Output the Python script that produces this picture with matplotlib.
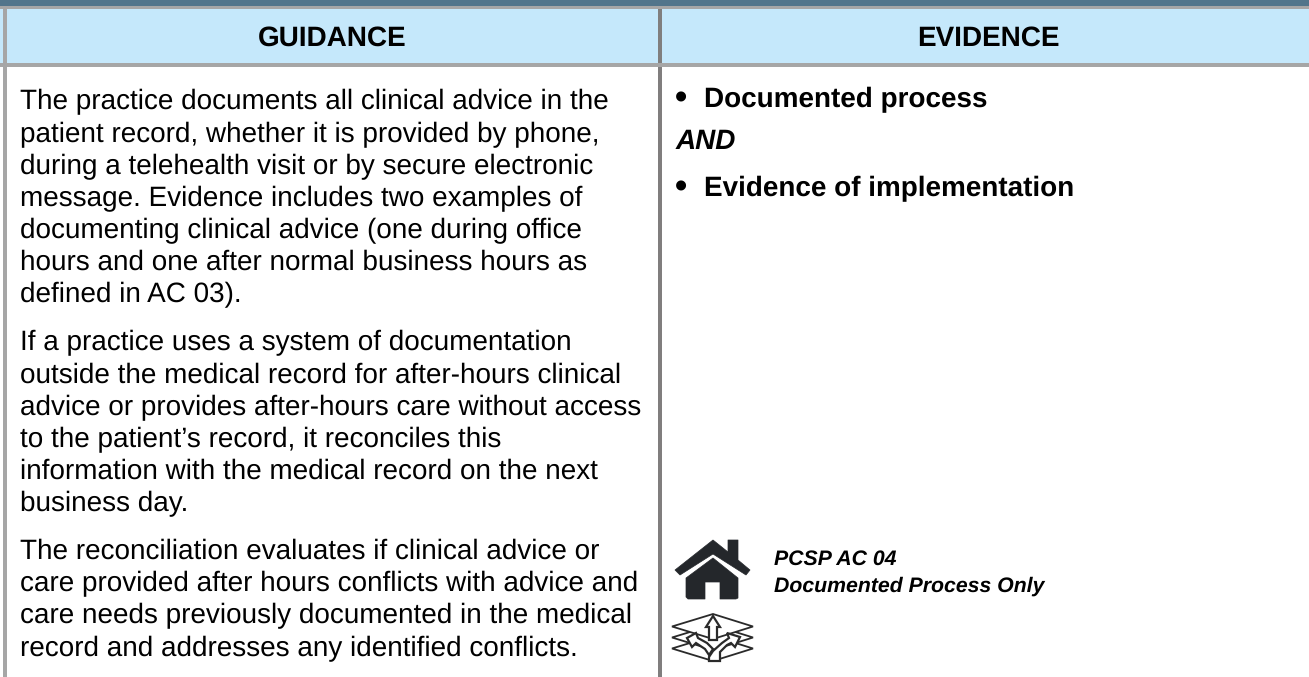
import matplotlib
matplotlib.use("Agg")
import matplotlib.pyplot as plt
from matplotlib.patches import Polygon, Rectangle

WIDTH, HEIGHT = 1309, 677

HEADERS = ["GUIDANCE", "EVIDENCE"]
GUIDANCE_LINES = [
    "The practice documents all clinical advice in the",
    "patient record, whether it is provided by phone,",
    "during a telehealth visit or by secure electronic",
    "message. Evidence includes two examples of",
    "documenting clinical advice (one during office",
    "hours and one after normal business hours as",
    "defined in AC 03).",
    "If a practice uses a system of documentation",
    "outside the medical record for after-hours clinical",
    "advice or provides after-hours care without access",
    "to the patient\u2019s record, it reconciles this",
    "information with the medical record on the next",
    "business day.",
    "The reconciliation evaluates if clinical advice or",
    "care provided after hours conflicts with advice and",
    "care needs previously documented in the medical",
    "record and addresses any identified conflicts.",
]
GUIDANCE_Y = [109, 142, 174, 206, 238, 270, 302, 350, 383, 415, 447, 479, 511, 559, 591, 623, 656]
EVIDENCE_ITEMS = ["Documented process", "Evidence of implementation"]
EVIDENCE_Y = [107, 196]
AND_Y = 149
NOTE_LINES = ["PCSP AC 04", "Documented Process Only"]
NOTE_Y = [565, 592]

FONT = 20.1
DARK = "#24272B"
LINE = "#2A2A2A"

plt.rcParams["font.family"] = ["Liberation Sans", "DejaVu Sans"]
plt.rcParams["text.hinting"] = "no_hinting"

fig = plt.figure(figsize=(WIDTH / 100, HEIGHT / 100), dpi=100)
ax = fig.add_axes([0, 0, 1, 1])
ax.set_xlim(0, WIDTH)
ax.set_ylim(HEIGHT, 0)
ax.axis("off")

# bands and rules
ax.add_patch(Rectangle((0, 0), WIDTH, 6, color="#52758B", lw=0))
ax.add_patch(Rectangle((0, 9), WIDTH, 54, color="#C5E8FB", lw=0))
ax.add_patch(Rectangle((3, 9), 4, HEIGHT - 9, color="#A6A6A6", lw=0))
ax.add_patch(Rectangle((658, 9), 4, HEIGHT - 9, color="#807E7E", lw=0))
ax.add_patch(Rectangle((0, 6), WIDTH, 3, color="#A6A6A6", lw=0))
ax.add_patch(Rectangle((0, 63), WIDTH, 4, color="#A6A6A6", lw=0))

# headers
ax.text(332, 46, HEADERS[0], fontsize=FONT, fontweight="bold", ha="center", va="baseline", color="black")
ax.text(988, 46, HEADERS[1], fontsize=FONT, fontweight="bold", ha="center", va="baseline", color="black")

# guidance column
for line, y in zip(GUIDANCE_LINES, GUIDANCE_Y):
    ax.text(20, y, line, fontsize=FONT, va="baseline", color="black")

# evidence column
for item, y in zip(EVIDENCE_ITEMS, EVIDENCE_Y):
    ax.text(675, y + 2, "\u2022", fontsize=25, fontweight="bold", va="baseline", color="black")
    ax.text(704, y, item, fontsize=FONT, fontweight="bold", va="baseline", color="black")
ax.text(676, AND_Y, "AND", fontsize=FONT, fontweight="bold", fontstyle="italic", va="baseline", color="black")

for line, y in zip(NOTE_LINES, NOTE_Y):
    ax.text(774, y, line, fontsize=15.3, fontweight="bold", fontstyle="italic", va="baseline", color="black")

# home icon
ax.add_patch(Polygon([(675, 570), (713, 540), (728, 552), (728, 540), (738, 540), (738, 560), (750, 570),
                      (746, 575), (713, 554), (680, 575)], closed=True, facecolor=DARK, edgecolor=DARK, lw=0.5,
                     joinstyle="round"))
ax.add_patch(Polygon([(686, 578), (713, 558), (738, 578), (738, 598), (736, 599), (720, 599), (720, 582), (705, 582),
                      (705, 599), (688, 599), (686, 597)], closed=True, facecolor=DARK, edgecolor=DARK, lw=0.5,
                     joinstyle="round"))

# layers icon
for top in [636, 625, 614]:
    ax.add_patch(Polygon([(672, top + 12.5), (713, top), (753, top + 12.5), (713, top + 25)], closed=True,
                         facecolor="white", edgecolor=LINE, lw=1.3))
ax.add_patch(Polygon([(709, 661), (720, 661), (720, 652), (727, 645), (731, 643), (735, 647), (740, 637), (727, 633),
                      (729, 638), (722, 643), (713, 651), (709, 657)], closed=True,
                     facecolor="white", edgecolor=LINE, lw=1.6))
ax.add_patch(Polygon([(687, 638), (692, 647), (696, 643), (705, 649), (709, 655), (713, 649), (707, 643), (698, 638),
                      (696, 633)], closed=True, facecolor="white", edgecolor=LINE, lw=1.6))
ax.add_patch(Polygon([(713, 616), (720, 627), (717, 627), (717, 640), (709, 640), (709, 627), (706, 627)], closed=True,
                     facecolor="white", edgecolor=LINE, lw=1.6))

fig.savefig("out.png", dpi=100)
